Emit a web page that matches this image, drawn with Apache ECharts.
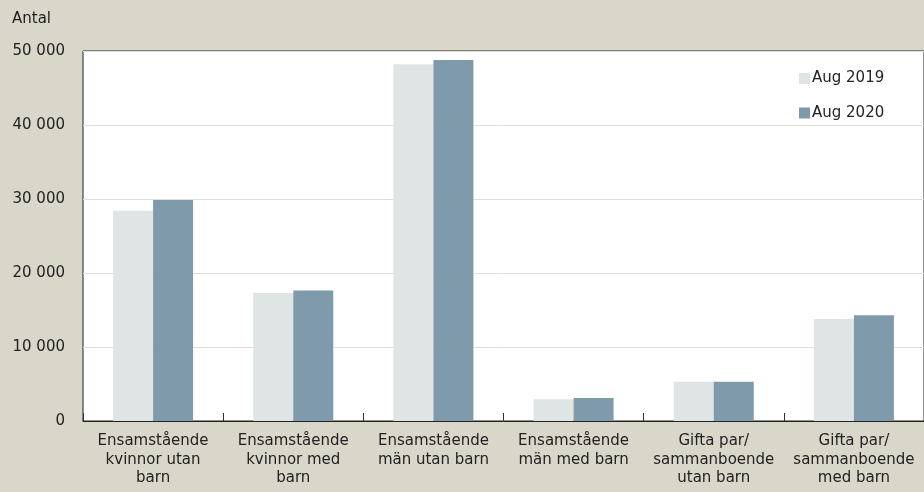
<!DOCTYPE html>
<html>
<head>
<meta charset="utf-8">
<script src="https://cdn.jsdelivr.net/npm/echarts@6/dist/echarts.min.js"></script>
<style>
  html, body { margin: 0; padding: 0; background: #d9d6ca; }
  #chart { width: 924px; height: 492px; }
</style>
</head>
<body>
<div id="chart"></div>
<script>
// kategorier och värden
const categories = [
    'Ensamstående\nkvinnor utan\nbarn',
    'Ensamstående\nkvinnor med\nbarn',
    'Ensamstående\nmän utan barn',
    'Ensamstående\nmän med barn',
    'Gifta par/\nsammanboende\nutan barn',
    'Gifta par/\nsammanboende\nmed barn'
];
const aug2019 = [28400, 17300, 48200, 2950, 5300, 13800];
const aug2020 = [29850, 17650, 48800, 3100, 5300, 14300];
const yTicks = [0, 10000, 20000, 30000, 40000, 50000];

const font = '"DejaVu Sans", sans-serif';
const fmt = v => String(v).replace(/\B(?=(\d{3})+(?!\d))/g, ' ');

const chart = echarts.init(document.getElementById('chart'));
const option = {
    backgroundColor: '#d9d6ca',
    animation: false,
    textStyle: { fontFamily: font },
    title: {
        text: 'Antal',
        left: 7,
        top: 7,
        textStyle: { fontFamily: font, fontSize: 15, fontWeight: 'normal', color: '#222' }
    },
    legend: {
        orient: 'vertical',
        left: 794,
        top: 66,
        itemWidth: 11,
        itemHeight: 11,
        itemGap: 19.5,
        icon: 'rect',
        textStyle: { fontFamily: font, fontSize: 15, color: '#222', padding: [0, 0, 0, -3] },
        data: ['Aug 2019', 'Aug 2020']
    },
    grid: {
        left: 83,
        top: 51,
        width: 843,
        height: 370,
        show: true,
        backgroundColor: '#ffffff',
        borderColor: '#222',
        borderWidth: 1
    },
    xAxis: {
        type: 'category',
        data: categories,
        axisLine: { lineStyle: { color: '#222', width: 1 } },
        axisTick: { show: true, inside: true, length: 8, lineStyle: { color: '#333', width: 1 } },
        axisLabel: {
            interval: 0,
            margin: 11,
            fontFamily: font,
            fontSize: 15,
            lineHeight: 18.5,
            color: '#222'
        }
    },
    yAxis: {
        type: 'value',
        min: yTicks[0],
        max: yTicks[yTicks.length - 1],
        interval: 10000,
        axisLine: { show: false },
        axisTick: { show: false },
        splitLine: { lineStyle: { color: '#e2ded4', width: 1 } },
        axisLabel: {
            margin: 18,
            fontFamily: font,
            fontSize: 15,
            color: '#222',
            formatter: fmt
        }
    },
    series: [
        {
            name: 'Aug 2019',
            type: 'bar',
            data: aug2019,
            barWidth: 40,
            barGap: '0%',
            itemStyle: { color: '#dfe4e4' }
        },
        {
            name: 'Aug 2020',
            type: 'bar',
            data: aug2020,
            barWidth: 40,
            itemStyle: { color: '#7f9aab' }
        }
    ]
};
chart.setOption(option);
</script>
</body>
</html>
